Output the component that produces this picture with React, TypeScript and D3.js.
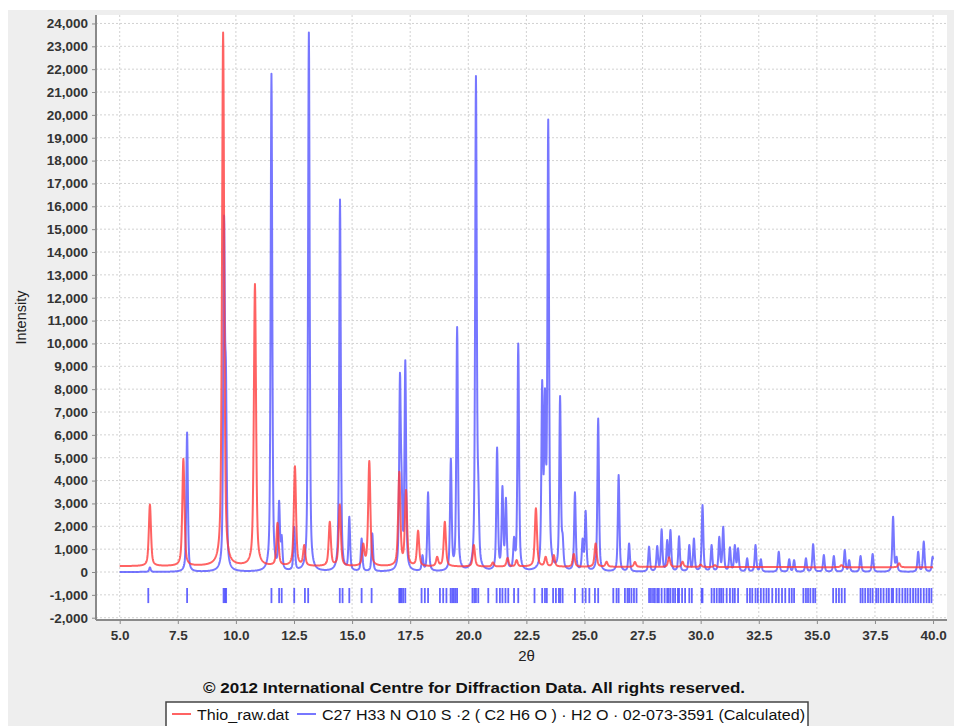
import React, { useEffect, useRef } from 'react';
import * as d3 from 'd3';

const W = 954;
const H = 726;

// Thio_raw.dat : [2θ, peak top intensity]
const rawPeaks: [number, number][] = [
  [6.30, 2950], [7.74, 4950], [9.45, 23600], [10.82, 12600], [11.79, 2150],
  [12.54, 4630], [12.94, 1180], [14.04, 2200], [14.47, 2950], [15.48, 1250],
  [15.74, 4860], [17.03, 4390], [17.32, 3590], [17.84, 1810], [18.66, 670],
  [18.99, 2200], [20.24, 1180], [21.06, 420], [21.69, 620], [22.08, 520],
  [22.91, 2790], [23.33, 670], [23.68, 740], [24.54, 790], [25.48, 1250],
  [25.95, 450], [27.17, 440], [28.64, 640], [29.22, 450], [30.0, 320],
  [30.61, 300], [36.06, 300], [38.54, 380],
];
const rawBackground: [number, number][] = [[5, 255], [40, 205]];

// C27 H33 N O10 S ... (Calculated) : [2θ, peak top intensity]
const calcPeaks: [number, number][] = [
  [6.30, 200], [7.90, 6100], [9.49, 15600], [9.57, 9240], [11.53, 21800],
  [11.86, 3120], [11.97, 1620], [12.51, 1980], [12.97, 500], [13.14, 23600],
  [14.48, 16300], [14.88, 2420], [15.41, 1470], [15.87, 1690], [17.06, 8720],
  [17.13, 4500], [17.29, 9270], [18.03, 740], [18.27, 3490], [19.25, 4970],
  [19.52, 10720], [20.33, 21700], [20.43, 4320], [21.24, 5450], [21.47, 3760],
  [21.62, 3250], [21.97, 1540], [22.15, 10000], [23.18, 8400], [23.30, 8040],
  [23.44, 19800], [23.95, 7700], [24.06, 1690], [24.59, 3490], [24.92, 1470],
  [25.05, 2680], [25.59, 6720], [26.47, 4240], [26.92, 1250], [27.78, 1110],
  [28.13, 1140], [28.32, 1870], [28.56, 1400], [28.70, 1840], [29.07, 1560],
  [29.51, 1180], [29.71, 1470], [30.08, 2930], [30.47, 1180], [30.80, 1540],
  [30.97, 1980], [31.26, 1080], [31.47, 1180], [31.61, 1040], [32.00, 600],
  [32.36, 1180], [32.59, 560], [33.36, 890], [33.81, 560], [34.02, 520],
  [34.53, 600], [34.84, 1220], [35.30, 740], [35.73, 700], [36.20, 960],
  [36.39, 520], [36.88, 700], [37.40, 790], [38.28, 2420], [38.43, 670],
  [39.36, 890], [39.60, 1330], [39.98, 670],
];
const calcBackground: [number, number][] = [[5, 0], [40, 0]];

// reference line positions (drawn as sticks at -1,000)
const refLines: number[] = [
  6.23, 7.90, 9.47, 9.53, 9.58, 11.53, 11.86, 11.97, 12.51, 12.97, 13.11,
  14.47, 14.59, 14.88, 15.41, 15.84,
  17.03, 17.08, 17.13, 17.20, 17.29, 17.99, 18.13, 18.27, 18.78, 18.92,
  19.06, 19.24, 19.31, 19.38, 19.45, 19.52, 20.18, 20.26, 20.33, 20.43,
  20.86, 21.22, 21.36, 21.47, 21.60, 21.72, 21.97, 22.15, 22.85,
  23.18, 23.30, 23.38, 23.65, 23.77, 23.90, 23.96, 24.06, 24.59, 24.92,
  25.05, 25.21, 25.45, 25.59, 26.24, 26.38, 26.47, 26.74, 26.85, 26.92,
  27.02, 27.13, 27.24,
  27.78, 27.86, 27.95, 28.03, 28.13, 28.20, 28.32, 28.45, 28.56, 28.62,
  28.70, 28.81, 28.90, 29.02, 29.07, 29.20, 29.33, 29.51, 29.62,
  30.04, 30.08, 30.47, 30.58, 30.69, 30.80, 30.88, 30.97, 31.12, 31.26,
  31.38, 31.47, 31.61,
  32.00, 32.12, 32.22, 32.36, 32.46, 32.59, 32.71, 32.83, 32.93, 33.08,
  33.24, 33.36, 33.50, 33.64, 33.81, 33.92, 34.02,
  34.42, 34.53, 34.62, 34.72, 34.84, 34.93,
  35.70, 35.83, 35.95, 36.07, 36.20,
  36.88, 36.97, 37.08, 37.20, 37.30, 37.40, 37.55, 37.64, 37.75, 37.87,
  38.00, 38.10, 38.22, 38.28, 38.43, 38.55, 38.68, 38.80, 38.90, 39.02,
  39.14, 39.25, 39.36, 39.47, 39.60, 39.72, 39.83, 39.93,
];

const xTicks = [5, 7.5, 10, 12.5, 15, 17.5, 20, 22.5, 25, 27.5, 30, 32.5, 35, 37.5, 40];
const yTicks = [
  -2000, -1000, 0, 1000, 2000, 3000, 4000, 5000, 6000, 7000, 8000, 9000, 10000,
  11000, 12000, 13000, 14000, 15000, 16000, 17000, 18000, 19000, 20000, 21000,
  22000, 23000, 24000,
];

const rawLabel = 'Thio_raw.dat';
const calcLabel = 'C27 H33 N O10 S \u00b72 ( C2 H6 O ) \u00b7 H2 O \u00b7 02-073-3591 (Calculated)';
const copyright = '\u00a9 2012 International Centre for Diffraction Data. All rights reserved.';

const RED = '#ff3c3c';
const BLUE = '#4a4aff';
const FONT = '"Liberation Sans", Arial, Helvetica, sans-serif';

// pseudo-Voigt peaks on a background; amplitudes solved so each listed top is hit
function profile(peaks: [number, number][], bg: [number, number][], hw: number, eta: number) {
  const base = d3.scaleLinear().domain(bg.map(d => d[0])).range(bg.map(d => d[1]));
  const shape = (u: number) => eta / (1 + u * u) + (1 - eta) * Math.exp(-Math.LN2 * u * u);

  let amps = peaks.map(([c, top]) => top - base(c));
  for (let k = 0; k < 40; k++) {
    amps = peaks.map(([c, top], i) => {
      let s = 0;
      peaks.forEach(([cj], j) => { if (j !== i) s += amps[j] * shape((c - cj) / hw); });
      return Math.max(0, top - base(c) - s);
    });
  }

  const ts = d3.range(5, 40.0001, 0.01).concat(peaks.map(p => p[0])).sort(d3.ascending);
  return ts.map(t => {
    let v = base(t);
    peaks.forEach(([c], i) => { v += amps[i] * shape((t - c) / hw); });
    return [t, v] as [number, number];
  });
}

export default function App() {
  const ref = useRef<SVGSVGElement>(null);

  useEffect(() => {
    const svg = d3.select(ref.current);
    svg.selectAll('*').remove();

    const left = 96, right = 947, top = 15, bottom = 620;
    const x = d3.scaleLinear().domain([3.98, 40.6]).range([left, right]);
    const y = d3.scaleLinear().domain([-2100, 24370]).range([bottom, top]);

    // panel + plot background
    svg.append('rect').attr('x', 8).attr('y', 10).attr('width', W - 8).attr('height', H - 10).attr('fill', '#eeeeee');
    svg.append('rect').attr('x', left).attr('y', top).attr('width', right - left).attr('height', bottom - top).attr('fill', '#ffffff');

    svg.append('defs').append('clipPath').attr('id', 'plotclip')
      .append('rect').attr('x', left).attr('y', top).attr('width', right - left).attr('height', bottom - top);

    // grid
    const grid = svg.append('g').attr('stroke', '#d2d2d2').attr('stroke-width', 1).attr('stroke-dasharray', '2,2');
    grid.selectAll('line.h').data(yTicks).enter().append('line')
      .attr('x1', left).attr('x2', right)
      .attr('y1', d => y(d)).attr('y2', d => y(d));
    grid.selectAll('line.v').data(xTicks).enter().append('line')
      .attr('y1', top).attr('y2', bottom)
      .attr('x1', d => x(d)).attr('x2', d => x(d));

    const plot = svg.append('g').attr('clip-path', 'url(#plotclip)');

    // reference sticks
    plot.selectAll('line.stick').data(refLines).enter().append('line')
      .attr('x1', d => x(d)).attr('x2', d => x(d))
      .attr('y1', y(-700)).attr('y2', y(-1360))
      .attr('stroke', BLUE).attr('stroke-opacity', 0.85).attr('stroke-width', 1.8);

    const line = d3.line<[number, number]>().x(d => x(d[0])).y(d => y(d[1]));

    // calculated pattern (drawn first), measured pattern on top
    plot.append('path')
      .datum(profile(calcPeaks, calcBackground, 0.04, 0.55))
      .attr('fill', 'none').attr('stroke', BLUE).attr('stroke-opacity', 0.75)
      .attr('stroke-width', 2).attr('stroke-linejoin', 'round')
      .attr('d', line);

    plot.append('path')
      .datum(profile(rawPeaks, rawBackground, 0.055, 0.6))
      .attr('fill', 'none').attr('stroke', RED).attr('stroke-opacity', 0.8)
      .attr('stroke-width', 2).attr('stroke-linejoin', 'round')
      .attr('d', line);

    // axes
    const fmtY = (d: d3.NumberValue) => d3.format(',')(d as number).replace('\u2212', '-');
    const yAxis = svg.append('g').attr('transform', `translate(${left},0)`)
      .call(d3.axisLeft(y).tickValues(yTicks).tickFormat(fmtY).tickSize(4).tickPadding(4));
    const xAxis = svg.append('g').attr('transform', `translate(0,${bottom})`)
      .call(d3.axisBottom(x).tickValues(xTicks).tickFormat(d3.format('.1f')).tickSize(4).tickPadding(6));

    [yAxis, xAxis].forEach(ax => {
      ax.select('.domain').attr('stroke', '#8a8a8a').attr('stroke-width', 2);
      ax.selectAll('.tick line').attr('stroke', '#8a8a8a');
      ax.selectAll('.tick text')
        .attr('fill', '#333333').attr('font-family', FONT)
        .attr('font-size', 13.5).attr('font-weight', 'bold');
    });
    yAxis.select('.domain').attr('d', `M0,${top}V${bottom}`);
    xAxis.select('.domain').attr('d', `M${left},0H${right}`);

    // axis titles
    svg.append('text')
      .attr('transform', `translate(26,${(top + bottom) / 2}) rotate(-90)`)
      .attr('text-anchor', 'middle').attr('font-family', FONT).attr('font-size', 14.5)
      .attr('fill', '#222').text('Intensity');
    svg.append('text')
      .attr('x', (left + right) / 2 + 5).attr('y', 661)
      .attr('text-anchor', 'middle').attr('font-family', FONT).attr('font-size', 15)
      .attr('fill', '#222').text('2\u03b8');

    // copyright
    svg.append('text')
      .attr('x', 203).attr('y', 693)
      .attr('font-family', FONT).attr('font-size', 15.5)
      .attr('textLength', 542).attr('lengthAdjust', 'spacingAndGlyphs')
      .attr('font-weight', 'bold').attr('fill', '#111').text(copyright);

    // legend
    const lg = svg.append('g');
    lg.append('rect').attr('x', 166).attr('y', 702).attr('width', 642).attr('height', 30)
      .attr('fill', '#ffffff').attr('stroke', '#444').attr('stroke-width', 1.5);
    lg.append('line').attr('x1', 172).attr('x2', 191).attr('y1', 714).attr('y2', 714)
      .attr('stroke', RED).attr('stroke-opacity', 0.8).attr('stroke-width', 2);
    lg.append('text').attr('x', 197).attr('y', 720).attr('font-family', FONT).attr('font-size', 15.5)
      .attr('textLength', 92).attr('lengthAdjust', 'spacingAndGlyphs')
      .attr('fill', '#111').text(rawLabel);
    lg.append('line').attr('x1', 297).attr('x2', 316).attr('y1', 714).attr('y2', 714)
      .attr('stroke', BLUE).attr('stroke-opacity', 0.75).attr('stroke-width', 2);
    lg.append('text').attr('x', 322).attr('y', 720).attr('font-family', FONT).attr('font-size', 15.5)
      .attr('textLength', 483).attr('lengthAdjust', 'spacingAndGlyphs')
      .attr('fill', '#111').text(calcLabel);
  }, []);

  return (
    <svg
      ref={ref}
      width={W}
      height={H}
      style={{ position: 'absolute', left: 0, top: 0, background: '#ffffff' }}
    />
  );
}
